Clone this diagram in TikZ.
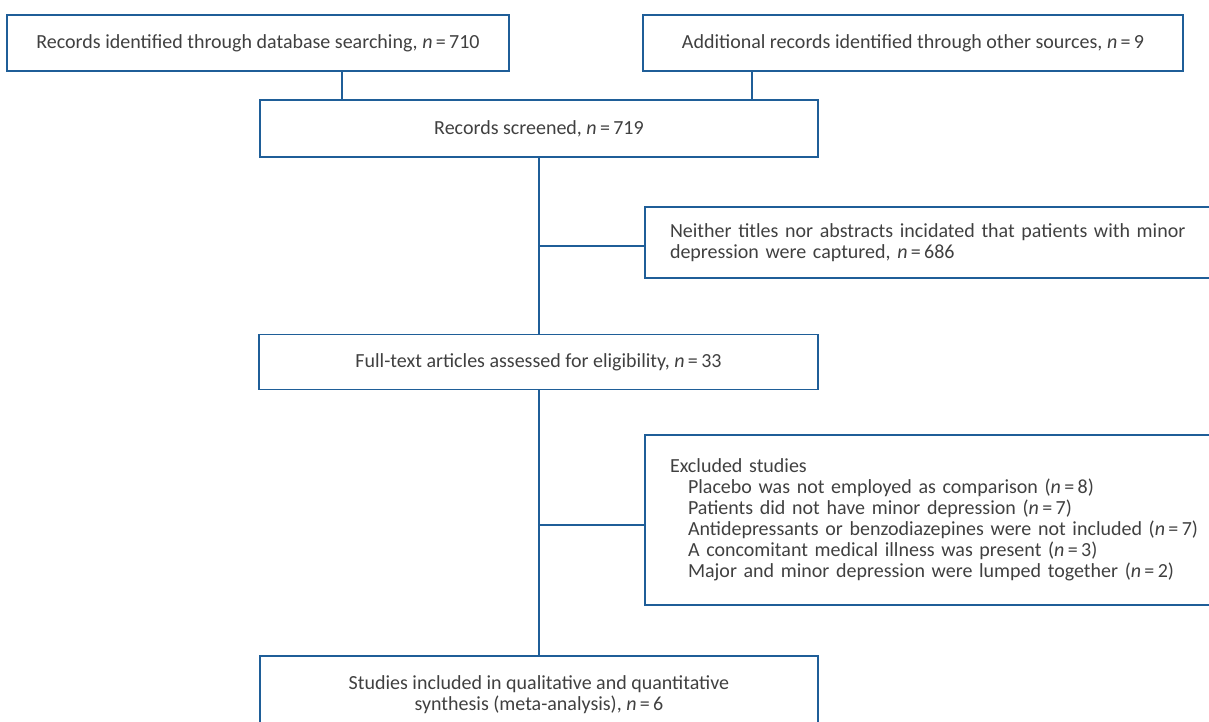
\documentclass[tikz,border=0pt]{standalone}
\usepackage{fontspec}
\setmainfont{Carlito}
\definecolor{lineblue}{HTML}{1F5E98}
\definecolor{txt}{HTML}{404040}
\begin{document}
\begin{tikzpicture}[x=1pt,y=-1pt,
  box/.style={draw=lineblue, line width=1.8pt, rectangle, inner sep=0pt, text=txt, font=\fontsize{20}{21}\selectfont},
  cbox/.style={box, align=center},
  lbox/.style={box, align=left, inner xsep=25pt, text width=540pt, minimum width=590pt},
  conn/.style={draw=lineblue, line width=1.8pt}]
\useasboundingbox (0,0) rectangle (1209,722);
\clip (0,0) rectangle (1209,722);
\node[cbox, minimum width=502pt, minimum height=56pt] (A) at (258,43) {Records identified through database searching, \textit{n}\,=\,710};
\node[cbox, minimum width=540pt, minimum height=56pt] (B) at (913,43) {Additional records identified through other sources, \textit{n}\,=\,9};
\node[cbox, minimum width=558pt, minimum height=57pt] (S) at (539,128.5) {Records screened, \textit{n}\,=\,719};
\node[lbox, minimum height=71pt] (N) at (940,242.5) {Neither titles nor abstracts incidated that patients with minor\\depression were captured, \textit{n}\,=\,686};
\node[cbox, minimum width=559pt, minimum height=55pt] (F) at (538.5,362) {Full-text articles assessed for eligibility, \textit{n}\,=\,33};
\node[lbox, minimum height=170pt] (E) at (940,520) {Excluded studies\\
\hspace*{18pt}Placebo was not employed as comparison (\textit{n}\,=\,8)\\
\hspace*{18pt}Patients did not have minor depression (\textit{n}\,=\,7)\\
\hspace*{18pt}Antidepressants or benzodiazepines were not included (\textit{n}\,=\,7)\\
\hspace*{18pt}A concomitant medical illness was present (\textit{n}\,=\,3)\\
\hspace*{18pt}Major and minor depression were lumped together (\textit{n}\,=\,2)};
\node[cbox, minimum width=558pt, minimum height=78pt] (I) at (539,695) {Studies included in qualitative and quantitative\\synthesis (meta-analysis), \textit{n}\,=\,6};
\coordinate (xa) at (342,0);
\coordinate (xb) at (752,0);
\coordinate (m) at (539,0);
\coordinate (jn) at (539,246);
\coordinate (je) at (539,525);
\draw[conn] (xa |- A.south) -- (xa |- S.north);
\draw[conn] (xb |- B.south) -- (xb |- S.north);
\draw[conn] (m |- S.south) -- (m |- F.north);
\draw[conn] (m |- F.south) -- (m |- I.north);
\draw[conn] (jn) -- (jn -| N.west);
\draw[conn] (je) -- (je -| E.west);
\end{tikzpicture}
\end{document}
